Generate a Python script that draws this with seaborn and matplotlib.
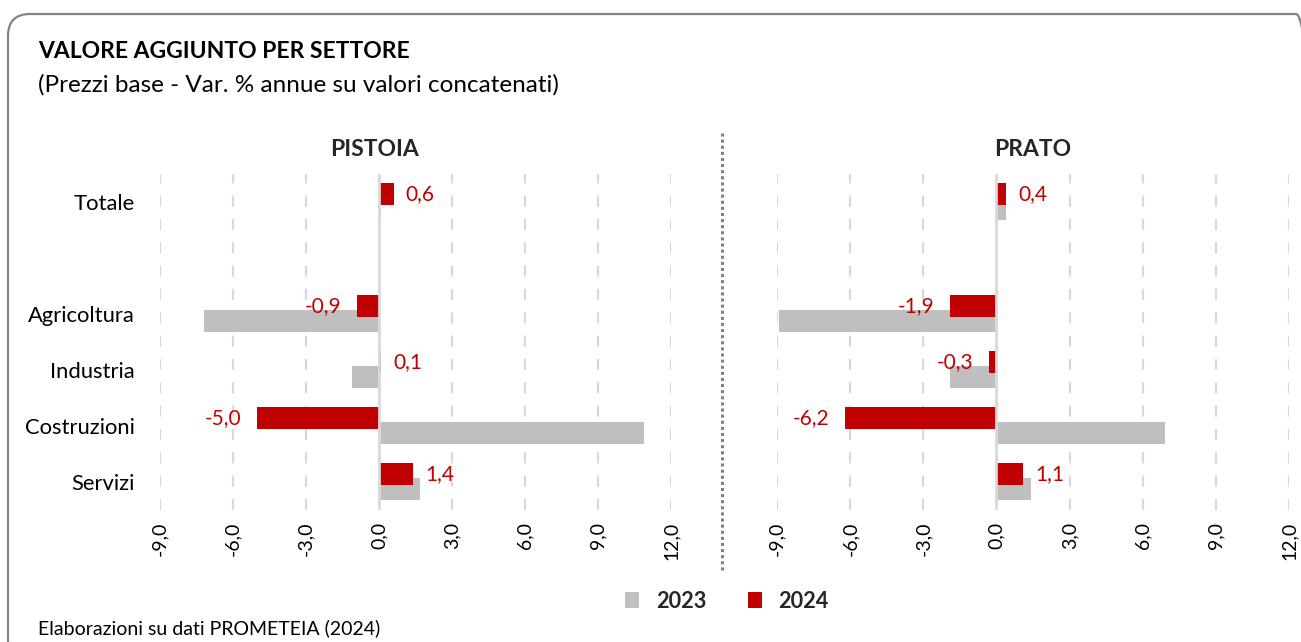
import numpy as np
import pandas as pd
import matplotlib
matplotlib.use("Agg")
import matplotlib.pyplot as plt
import seaborn as sns
from matplotlib import font_manager as fm
from matplotlib.patches import FancyBboxPatch, Patch
from matplotlib.lines import Line2D
from matplotlib.transforms import IdentityTransform

# ---------------- data ----------------
categories = ["Totale", " ", "Agricoltura", "Industria", "Costruzioni", "Servizi"]
pistoia_2023 = [0.1, np.nan, -7.2, -1.1, 10.9, 1.7]
pistoia_2024 = [0.6, np.nan, -0.9, 0.1, -5.0, 1.4]
prato_2023 = [0.4, np.nan, -8.9, -1.9, 6.9, 1.4]
prato_2024 = [0.4, np.nan, -1.9, -0.3, -6.2, 1.1]
x_ticks = [-9, -6, -3, 0, 3, 6, 9, 12]
years = ["2023", "2024"]
panels = ["PISTOIA", "PRATO"]

title = "VALORE AGGIUNTO PER SETTORE"
subtitle = "(Prezzi base - Var. % annue su valori concatenati)"
source = "Elaborazioni su dati PROMETEIA (2024)"

GRAY = "#bfbfbf"
RED = "#c00000"
GRID = "#d9d9d9"

sns.set_theme(style="white")
names = {f.name for f in fm.fontManager.ttflist}
FONT = "Liberation Sans Narrow" if "Liberation Sans Narrow" in names else "Lato"
plt.rcParams["font.family"] = [FONT, "DejaVu Sans"]

W, H = 1301, 642
fig = plt.figure(figsize=(W / 100, H / 100), dpi=100)
fig.patch.set_facecolor("white")


def fx(px):
    return px / W


def fy(py):
    return 1 - py / H


# rounded frame
frame = FancyBboxPatch((8, -20), 1310, H - 14 + 20, boxstyle="round,pad=0,rounding_size=22",
                       transform=IdentityTransform(), fill=False, edgecolor="#848484",
                       linewidth=1.6)
fig.add_artist(frame)

fig.text(fx(38), fy(52), title, fontsize=16.5, fontweight="bold", va="center", ha="left",
         color="#000000")
fig.text(fx(38), fy(85), subtitle, fontsize=17.5, va="center", ha="left", color="#000000")
fig.text(fx(38), fy(628), source, fontsize=14, va="center", ha="left", color="#000000")

ax_top, ax_bot = 173.5, 509.5
axes_pos = [(160, 671), (777, 1289)]
data_sets = [(pistoia_2023, pistoia_2024), (prato_2023, prato_2024)]
BAR_H = 0.39
OFF = 0.134

for i, ((xl, xr), (v23, v24), pname) in enumerate(zip(axes_pos, data_sets, panels)):
    ax = fig.add_axes([fx(xl), fy(ax_bot), (xr - xl) / W, (ax_bot - ax_top) / H])
    ax.set_facecolor("none")
    df23 = pd.DataFrame({"cat": categories, "val": v23})
    df24 = pd.DataFrame({"cat": categories, "val": v24})

    # grid
    for t in x_ticks:
        if t == 0:
            continue
        ax.axvline(t, color=GRID, lw=1.6, dashes=(5, 5.5), zorder=0)

    n0 = len(ax.patches)
    sns.barplot(data=df23, x="val", y="cat", order=categories, orient="h", color=GRAY,
                width=BAR_H, errorbar=None, ax=ax, saturation=1, zorder=2)
    n1 = len(ax.patches)
    for p in ax.patches[n0:n1]:
        p.set_y(p.get_y() + OFF)
        p.set_edgecolor("none")
    sns.barplot(data=df24, x="val", y="cat", order=categories, orient="h", color=RED,
                width=BAR_H, errorbar=None, ax=ax, saturation=1, zorder=3)
    for p in ax.patches[n1:]:
        p.set_y(p.get_y() - OFF)
        p.set_edgecolor("none")

    ax.axvline(0, color=GRID, lw=2, zorder=4)

    # data labels for 2024
    for k, v in enumerate(v24):
        if np.isnan(v):
            continue
        lab = f"{v:.1f}".replace(".", ",")
        if v >= 0:
            ax.annotate(lab, (v, k - OFF), xytext=(8.5, 0), textcoords="offset points",
                        ha="left", va="center", color=RED, fontsize=15, zorder=5)
        else:
            ax.annotate(lab, (v, k - OFF), xytext=(-11.5, 0), textcoords="offset points",
                        ha="right", va="center", color=RED, fontsize=15, zorder=5)

    ax.set_xlim(-9, 12)
    ax.set_ylim(5.5, -0.5)
    ax.set_xticks(x_ticks)
    ax.set_xticklabels([f"{t:.1f}".replace(".", ",") for t in x_ticks], rotation=90,
                       fontsize=14, va="top")
    ax.tick_params(axis="x", length=0, pad=9, colors="#000000")
    ax.set_xlabel("")
    ax.set_ylabel("")
    if i == 0:
        ax.set_yticks(range(len(categories)))
        ax.set_yticklabels(categories, fontsize=15.8)
        ax.tick_params(axis="y", length=0, pad=18, colors="#000000")
    else:
        ax.set_yticks([])
    for s in ax.spines.values():
        s.set_visible(False)
    cx = (xl + xr) / 2
    fig.text(fx(cx if i == 1 else 374), fy(150), pname, fontsize=16.5, fontweight="bold",
             ha="center", va="center")

# dotted separator
fig.add_artist(Line2D([fx(722), fx(722)], [fy(133), fy(572)], transform=fig.transFigure,
                      color="#808080", lw=2.2, linestyle=(0, (1, 1))))

handles = [Patch(facecolor=GRAY, edgecolor="none"), Patch(facecolor=RED, edgecolor="none")]
leg = fig.legend(handles, years, loc="center", bbox_to_anchor=(fx(727), fy(601)), ncol=2,
                 frameon=False, prop={"weight": "bold", "size": 15.6}, handlelength=0.65,
                 handleheight=0.7, columnspacing=1.9, handletextpad=0.78)

fig.savefig("out.png", dpi=100)
